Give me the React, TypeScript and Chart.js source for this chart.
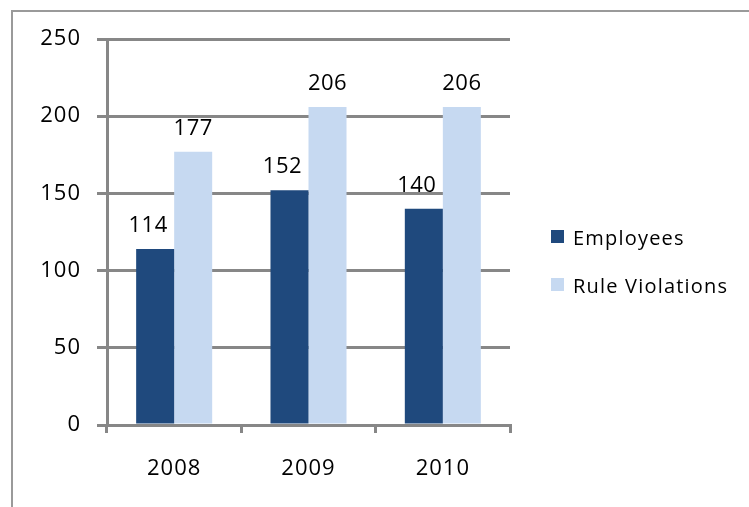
import React, { useEffect, useRef } from 'react';
import { Chart, registerables } from 'chart.js';

Chart.register(...registerables);

const categories = ['2008', '2009', '2010'];
const employees = [114, 152, 140];
const ruleViolations = [177, 206, 206];
const seriesNames = ['Employees', 'Rule Violations'];
const seriesColors = ['#1F497D', '#C6D9F1'];
const yMin = 0;
const yMax = 250;
const yStep = 50;

const FONT = "'Open Sans', sans-serif";
const GRID = '#878787';

const outerBorderPlugin = {
  id: 'outerBorder',
  beforeDraw(chart: any) {
    const ctx = chart.ctx;
    ctx.save();
    ctx.fillStyle = '#ffffff';
    ctx.fillRect(0, 0, chart.width, chart.height);
    ctx.strokeStyle = '#9a9a9a';
    ctx.lineWidth = 2;
    ctx.strokeRect(12, 11, chart.width + 50, chart.height + 50);
    ctx.restore();
    ctx.letterSpacing = '1px';
  },
};

const dataLabelPlugin = {
  id: 'dataLabels',
  afterDatasetsDraw(chart: any) {
    const ctx = chart.ctx;
    ctx.save();
    ctx.font = `22px ${FONT}`;
    ctx.fillStyle = '#000000';
    ctx.textAlign = 'center';
    ctx.textBaseline = 'alphabetic';
    ctx.letterSpacing = '0.5px';
    chart.data.datasets.forEach((ds: any, i: number) => {
      const meta = chart.getDatasetMeta(i);
      meta.data.forEach((el: any, j: number) => {
        const dx = i === 0 ? -7 : 0;
        ctx.fillText(String(ds.data[j]), el.x + dx, el.y - 17);
      });
    });
    ctx.restore();
  },
};

const sideLegendPlugin = {
  id: 'sideLegend',
  afterDraw(chart: any) {
    const ctx = chart.ctx;
    ctx.save();
    ctx.font = `20px ${FONT}`;
    ctx.fillStyle = '#000000';
    ctx.textAlign = 'left';
    ctx.textBaseline = 'alphabetic';
    ctx.letterSpacing = '1.2px';
    const x0 = chart.chartArea.right + 41;
    const rows = [237, 285];
    chart.data.datasets.forEach((ds: any, i: number) => {
      const cy = rows[i];
      ctx.fillStyle = ds.backgroundColor;
      ctx.fillRect(x0, cy - 7, 13, 13);
      ctx.fillStyle = '#000000';
      ctx.fillText(ds.label, x0 + 22, cy + 8);
    });
    ctx.restore();
  },
};

export default function App() {
  const canvasRef = useRef<HTMLCanvasElement | null>(null);

  useEffect(() => {
    const canvas = canvasRef.current;
    if (!canvas) return;
    const chart = new Chart(canvas, {
      type: 'bar',
      data: {
        labels: categories,
        datasets: [
          {
            label: seriesNames[0],
            data: employees,
            backgroundColor: seriesColors[0],
            categoryPercentage: 0.566,
            barPercentage: 1,
          },
          {
            label: seriesNames[1],
            data: ruleViolations,
            backgroundColor: seriesColors[1],
            categoryPercentage: 0.566,
            barPercentage: 1,
          },
        ],
      },
      options: {
        responsive: false,
        animation: false,
        devicePixelRatio: 1,
        layout: { padding: { top: 39, right: 239, bottom: 0, left: 0 } },
        plugins: {
          legend: { display: false },
          tooltip: { enabled: false },
          title: { display: false },
        },
        scales: {
          x: {
            ticks: {
              color: '#000000',
              font: { family: FONT, size: 22 },
              padding: 23,
              maxRotation: 0,
            },
            grid: {
              drawOnChartArea: false,
              drawTicks: true,
              tickLength: 8,
              color: GRID,
              lineWidth: 3,
              offset: true,
            },
            border: { display: true, color: GRID, width: 3 },
            afterFit(scale: any) {
              scale.height = 82;
            },
          },
          y: {
            min: yMin,
            max: yMax,
            ticks: {
              stepSize: yStep,
              color: '#000000',
              font: { family: FONT, size: 22 },
              padding: 16,
            },
            grid: {
              color: GRID,
              lineWidth: 3,
              tickLength: 10,
              drawTicks: true,
            },
            border: { display: true, color: GRID, width: 3 },
            afterFit(scale: any) {
              scale.width = 107;
            },
          },
        },
      },
      plugins: [outerBorderPlugin, dataLabelPlugin, sideLegendPlugin],
    });
    return () => chart.destroy();
  }, []);

  return (
    <div style={{ position: 'absolute', left: 0, top: 0, width: 749, height: 507, background: '#fff' }}>
      <canvas ref={canvasRef} width={749} height={507} style={{ display: 'block' }} />
    </div>
  );
}
